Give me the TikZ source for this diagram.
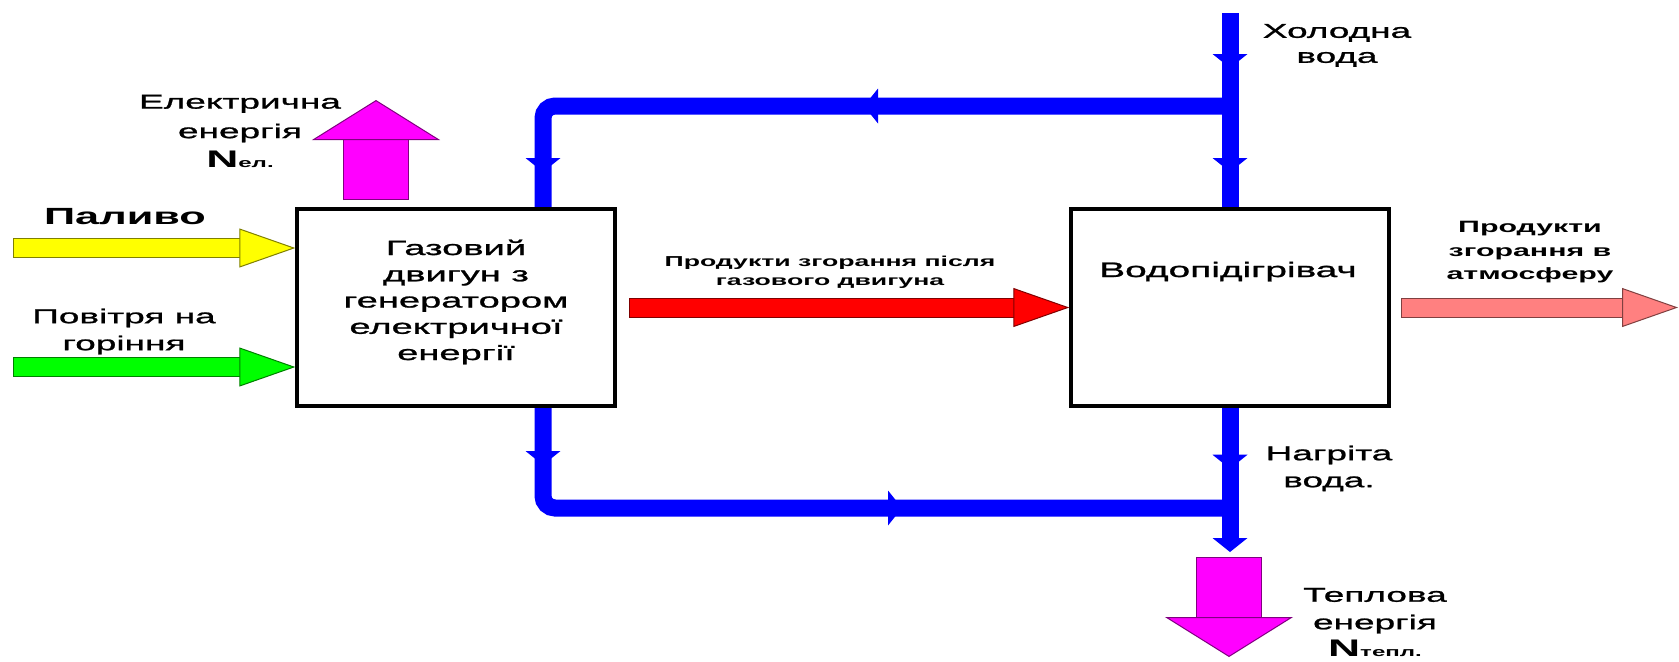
\documentclass[tikz,border=0pt]{standalone}
\usepackage{fontspec}
\setmainfont{Liberation Sans}[FakeStretch=1.85, UprightFeatures={FakeBold=1.2}]
\usetikzlibrary{arrows.meta, positioning, calc, backgrounds, decorations.markings}
\definecolor{waterblue}{RGB}{0, 0, 255}
\definecolor{fuel}{RGB}{255, 255, 0}
\definecolor{fueledge}{RGB}{128, 128, 0}
\definecolor{air}{RGB}{0, 255, 0}
\definecolor{airedge}{RGB}{0, 128, 0}
\definecolor{power}{RGB}{255, 0, 255}
\definecolor{poweredge}{RGB}{128, 0, 128}
\definecolor{exhaust}{RGB}{255, 0, 0}
\definecolor{exhaustedge}{RGB}{128, 0, 0}
\definecolor{flue}{RGB}{255, 128, 128}
\definecolor{flueedge}{RGB}{128, 64, 64}
\tikzset{pipetip/.tip={Triangle[width=17.5pt, length=7pt, line width=0pt]}}

\begin{document}
\begin{tikzpicture}[
        x=0.5pt, y=-0.5pt,
        plant/.style={rectangle, draw, line width=1.7pt, fill=white,
                      minimum width=159pt, minimum height=98.5pt, inner sep=0pt},
        pipe/.style={draw=waterblue, line width=8.5pt, rounded corners=6pt},
        flow/.style={postaction={decorate, decoration={markings,
                      mark=at position #1 with {\arrow{pipetip}}}}},
        feed/.style 2 args={draw=#1, line width=9pt,
                      preaction={draw=#2, line width=10pt, -, shorten <=-0.5pt, shorten >=27pt},
                      -{Triangle[width=19.5pt, length=28pt, fill=#1, color=#2, line width=0.5pt]}},
        energy/.style={draw=power, line width=32pt,
                      preaction={draw=poweredge, line width=33pt, -, shorten <=-0.5pt, shorten >=19pt},
                      -{Triangle[width=64pt, length=20pt, fill=power, color=poweredge, line width=0.5pt]}},
        txt/.style={align=center, inner sep=0pt},
    ]
        \useasboundingbox (0,0) rectangle (1679,661);

        \node[plant] (eng) at (456,307.5) {};
        \node[plant] (wh) at (1230,307.5) {};
        \node[txt, font=\fontsize{10.3}{13.125}\selectfont] (engtxt) at (456,302)
            {Газовий\\двигун з\\генератором\\електричної\\енергії};
        \node[txt, font=\fontsize{10.5}{13}\selectfont] (whtxt) at (1228,271.6) {Водопідігрівач};

        \coordinate (coldin) at (1230,13);
        \coordinate (teetop) at (1230,106);
        \coordinate (engin) at (543,209);
        \coordinate (engout) at (543,406);
        \coordinate (teebot) at (1230,508);
        \coordinate (hotout) at (1230,552);

        \begin{scope}[on background layer]
            \fill[white] (0,0) rectangle (1679,661);
            \draw[pipe, flow=183pt, flow=-18.5pt] (teetop) -| (engin);
            \draw[pipe, flow=29.5pt, flow=-164pt] (engout) |- (teebot);
            \draw[pipe, flow=27.5pt, flow=79.5pt] (coldin) -- (wh.north);
            \draw[pipe, flow=30.5pt, -{pipetip}] (wh.south) -- (hotout);
        \end{scope}

        \coordinate (fuelin) at (14,248);
        \coordinate (airin) at (14,367);
        \draw[feed={fuel}{fueledge}] (fuelin) -- (fuelin -| eng.west);
        \draw[feed={air}{airedge}] (airin) -- (airin -| eng.west);

        \coordinate (pwrbase) at (376,199);
        \coordinate (pwrtip) at (376,100);
        \draw[energy] (pwrbase) -- (pwrtip);
        \coordinate (heatbase) at (1229,558);
        \coordinate (heattip) at (1229,657);
        \draw[energy] (heatbase) -- (heattip);

        \coordinate (exhin) at (630,307.5);
        \draw[feed={exhaust}{exhaustedge}] (exhin) -- (wh.west);
        \coordinate (fluein) at (1402,307.5);
        \coordinate (flueout) at (1678,307.5);
        \draw[feed={flue}{flueedge}] (fluein) -- (flueout);

        \node[txt, font=\fontsize{10}{14.75}\selectfont] (pwrlbl) at (240,131.3)
            {Електрична\\енергія\\{\bfseries\fontsize{12}{14}\selectfont N}{\bfseries\fontsize{6.5}{8}\selectfont ел.}};
        \node[txt, font=\bfseries\fontsize{11.7}{14}\selectfont] (fuellbl) at (125,216.6) {Паливо};
        \node[txt, font=\fontsize{10}{13.5}\selectfont] (airlbl) at (124,331.5) {Повітря на\\горіння};
        \node[txt, font=\bfseries\fontsize{7.2}{9.5}\selectfont] (exhlbl) at (830,272)
            {Продукти згорання після\\газового двигуна};
        \node[txt, font=\bfseries\fontsize{8.2}{11.75}\selectfont] (fluelbl) at (1530,252.4)
            {Продукти\\згорання в\\атмосферу};
        \node[txt, font=\fontsize{10}{12.5}\selectfont] (coldlbl) at (1337,45.4) {Холодна\\вода};
        \node[txt, font=\fontsize{10}{13.5}\selectfont] (hotlbl) at (1329,468.4) {Нагріта\\вода.};
        \node[txt, font=\fontsize{10}{13.75}\selectfont] (heatlbl) at (1375,622.4)
            {Теплова\\енергія\\{\bfseries\fontsize{12}{14}\selectfont N}{\bfseries\fontsize{6.5}{8}\selectfont тепл.}};
    \end{tikzpicture}
\end{document}
